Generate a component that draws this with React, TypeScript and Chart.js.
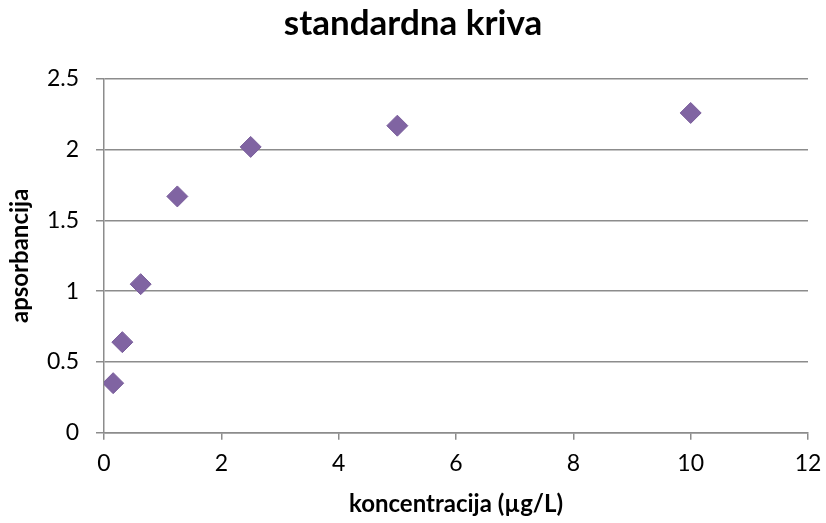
import React, { useEffect, useRef } from "react";
import { Chart, registerables } from "chart.js";

Chart.register(...registerables);

const concentrations = [0.15625, 0.3125, 0.625, 1.25, 2.5, 5, 10];
const absorbances = [0.35, 0.64, 1.05, 1.67, 2.02, 2.17, 2.26];
const xTicks = [0, 2, 4, 6, 8, 10, 12];
const yTicks = [0, 0.5, 1, 1.5, 2, 2.5];

const FONT = 'Lato, "Open Sans", sans-serif';

export default function App() {
  const ref = useRef<HTMLCanvasElement | null>(null);

  useEffect(() => {
    if (!ref.current) return;
    const chart = new Chart(ref.current, {
      type: "scatter",
      data: {
        datasets: [
          {
            label: "apsorbancija",
            data: concentrations.map((x, i) => ({ x, y: absorbances[i] })),
            pointStyle: "rectRot",
            pointRadius: 10.5,
            pointHoverRadius: 10.5,
            backgroundColor: "#8064A2",
            borderColor: "#7a5e9c",
            borderWidth: 1,
          },
        ],
      },
      options: {
        responsive: false,
        animation: false,
        layout: { padding: { left: 0, right: 0, top: 0, bottom: 0 } },
        plugins: {
          legend: { display: false },
          tooltip: { enabled: false },
          title: {
            display: true,
            text: "standardna kriva",
            color: "#000",
            font: { family: FONT, size: 35, weight: "bold", lineHeight: 1.2 },
            padding: { top: 3, bottom: 34 },
          },
        },
        scales: {
          x: {
            type: "linear",
            min: 0,
            max: 12,
            afterBuildTicks: (scale: any) => {
              scale.ticks = xTicks.map((v) => ({ value: v }));
            },
            afterFit: (scale: any) => {
              scale.height = 90.3;
              scale.paddingLeft = 0;
              scale.paddingRight = 18;
            },
            grid: {
              drawOnChartArea: false,
              drawTicks: true,
              tickLength: 7,
              color: "#8c8c8c",
              lineWidth: 1.5,
            },
            border: { display: true, color: "#8c8c8c", width: 1.5 },
            ticks: {
              color: "#000",
              font: { family: FONT, size: 23 },
              padding: 10,
              maxRotation: 0,
            },
            title: {
              display: true,
              text: "koncentracija (µg/L)",
              color: "#000",
              font: { family: FONT, size: 24, weight: "bold", lineHeight: 1.2 },
              padding: { top: 0, bottom: 4 },
            },
          },
          y: {
            type: "linear",
            min: 0,
            max: 2.5,
            afterBuildTicks: (scale: any) => {
              scale.ticks = yTicks.map((v) => ({ value: v }));
            },
            afterFit: (scale: any) => {
              scale.width = 104;
              scale.paddingTop = 0;
              scale.paddingBottom = 0;
            },
            grid: {
              drawOnChartArea: true,
              drawTicks: true,
              tickLength: 8,
              color: "#8c8c8c",
              lineWidth: 1.5,
            },
            border: { display: true, color: "#8c8c8c", width: 1.5 },
            ticks: {
              color: "#000",
              font: { family: FONT, size: 23 },
              padding: 17,
              callback: (v: any) => String(v),
            },
            title: {
              display: true,
              text: "apsorbancija",
              color: "#000",
              font: { family: FONT, size: 24, weight: "bold", lineHeight: 1.2 },
              padding: { top: 6, bottom: 0 },
            },
          },
        },
      },
    });
    return () => chart.destroy();
  }, []);

  return (
    <div style={{ position: "fixed", left: 0, top: 0, width: 826, height: 523, background: "#fff" }}>
      <canvas ref={ref} width={826} height={523} />
    </div>
  );
}
